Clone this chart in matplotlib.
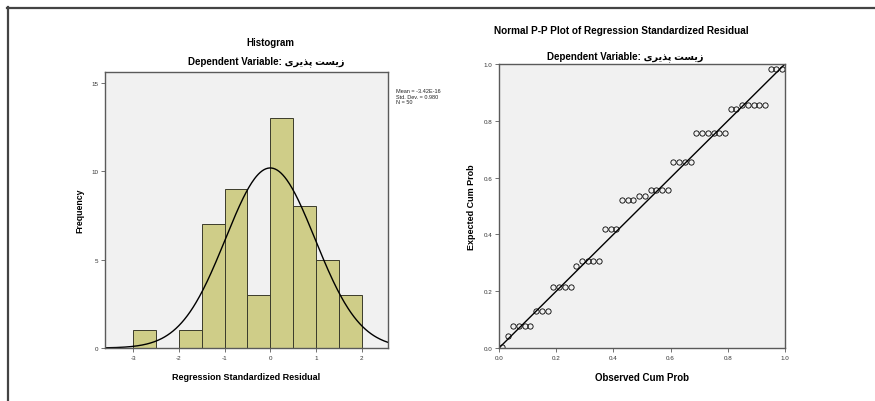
import numpy as np
import matplotlib.pyplot as plt
from matplotlib.lines import Line2D

plt.rcParams["font.family"] = ["Liberation Sans", "DejaVu Sans"]
plt.rcParams["axes.unicode_minus"] = False

# histogram of regression standardized residuals
bin_edges = [-3.0, -2.5, -2.0, -1.5, -1.0, -0.5, 0.0, 0.5, 1.0, 1.5, 2.0]
counts = [1, 0, 1, 7, 9, 3, 13, 8, 5, 3]
res_mean = -3.42e-16
res_sd = 0.980
n_obs = 50

# normal P-P plot points
observed_cum = [0.01, 0.03, 0.05, 0.07, 0.09, 0.11, 0.13, 0.15, 0.17, 0.19,
                0.21, 0.23, 0.25, 0.27, 0.29, 0.31, 0.33, 0.35, 0.37, 0.39,
                0.41, 0.43, 0.45, 0.47, 0.49, 0.51, 0.53, 0.55, 0.57, 0.59,
                0.61, 0.63, 0.65, 0.67, 0.69, 0.71, 0.73, 0.75, 0.77, 0.79,
                0.81, 0.83, 0.85, 0.87, 0.89, 0.91, 0.93, 0.95, 0.97, 0.99]
expected_cum = [0.005, 0.041, 0.079, 0.079, 0.079, 0.079, 0.129, 0.129, 0.129, 0.214,
                0.214, 0.214, 0.214, 0.290, 0.307, 0.307, 0.307, 0.307, 0.419, 0.419,
                0.419, 0.522, 0.522, 0.522, 0.536, 0.536, 0.556, 0.556, 0.556, 0.556,
                0.654, 0.654, 0.654, 0.654, 0.757, 0.757, 0.757, 0.757, 0.757, 0.757,
                0.842, 0.842, 0.856, 0.856, 0.856, 0.856, 0.856, 0.982, 0.982, 0.982]

# Persian label in visual order with presentation forms (matplotlib has no shaping)
dep_var = "\ufbfc\ufeae\ufbfe\ufeac\ufb58 \ufe96\ufeb4\ufbfe\ufeaf"

W, H = 875, 402
fig = plt.figure(figsize=(W / 100, H / 100), dpi=100)

bg = "#f1f1f1"
spine_c = "#5a5a5a"
tick_fs = 4.5


def style_axes(ax):
    ax.set_facecolor(bg)
    for s in ax.spines.values():
        s.set_color(spine_c)
        s.set_linewidth(1.0)
    ax.tick_params(direction="out", length=3, width=0.6, color=spine_c,
                   labelsize=tick_fs, labelcolor="#333333", pad=2)


# ---- histogram ----
ax1 = fig.add_axes([105 / W, 1 - 349 / H, 283 / W, 276 / H])
style_axes(ax1)
ax1.bar(bin_edges[:-1], counts, width=0.5, align="edge",
        color="#cfcd88", edgecolor="#3b3b2b", linewidth=0.7)
xs = np.linspace(-3.62, 2.58, 300)
pdf = np.exp(-0.5 * ((xs - res_mean) / res_sd) ** 2) / (res_sd * np.sqrt(2 * np.pi))
ax1.plot(xs, n_obs * 0.5 * pdf, color="black", linewidth=1.0)
ax1.set_xlim(-3.62, 2.58)
ax1.set_ylim(0, 15.6)
ax1.set_xticks([-3, -2, -1, 0, 1, 2])
ax1.set_yticks([0, 5, 10, 15])
ax1.set_xlabel("Regression Standardized Residual", fontsize=6.5,
               fontweight="bold", labelpad=9)
ax1.set_ylabel("Frequency", fontsize=6.3, fontweight="bold", labelpad=5)
fig.text(270 / W, 1 - 43 / H, "Histogram", ha="center", va="center",
         fontsize=7, fontweight="bold")
fig.text(266 / W, 1 - 62 / H, "Dependent Variable: " + dep_var,
         ha="center", va="center", fontsize=7, fontweight="bold")
fig.text(396 / W, 1 - 89 / H,
         "Mean = -3.42E-16\nStd. Dev. = 0.980\nN = 50",
         ha="left", va="top", fontsize=4, linespacing=1.15, color="#222222")

# ---- normal P-P plot ----
ax2 = fig.add_axes([499 / W, 1 - 349 / H, 286 / W, 284 / H])
style_axes(ax2)
ax2.plot([0, 1], [0, 1], color="black", linewidth=1.0)
ax2.plot(observed_cum, expected_cum, linestyle="none", marker="o",
         markersize=3.8, markerfacecolor="none", markeredgecolor="black",
         markeredgewidth=0.6)
ax2.set_xlim(0, 1)
ax2.set_ylim(0, 1)
ticks = [0.0, 0.2, 0.4, 0.6, 0.8, 1.0]
ax2.set_xticks(ticks)
ax2.set_yticks(ticks)
ax2.set_xticklabels([f"{t:.1f}" for t in ticks])
ax2.set_yticklabels([f"{t:.1f}" for t in ticks])
ax2.set_xlabel("Observed Cum Prob", fontsize=7, fontweight="bold", labelpad=9)
ax2.set_ylabel("Expected Cum Prob", fontsize=6.5, fontweight="bold", labelpad=5)
fig.text(621 / W, 1 - 31 / H, "Normal P-P Plot of Regression Standardized Residual",
         ha="center", va="center", fontsize=7.2, fontweight="bold")
fig.text(625 / W, 1 - 57 / H, "Dependent Variable: " + dep_var,
         ha="center", va="center", fontsize=7, fontweight="bold")

# outer frame (top and left edges)
fig.add_artist(Line2D([7 / W, 1], [1 - 8.5 / H, 1 - 8.5 / H], color="#444444",
                      linewidth=1.6, transform=fig.transFigure))
fig.add_artist(Line2D([7.5 / W, 7.5 / W], [0, 1 - 8 / H], color="#444444",
                      linewidth=1.6, transform=fig.transFigure))

fig.savefig("out.png", dpi=100)
